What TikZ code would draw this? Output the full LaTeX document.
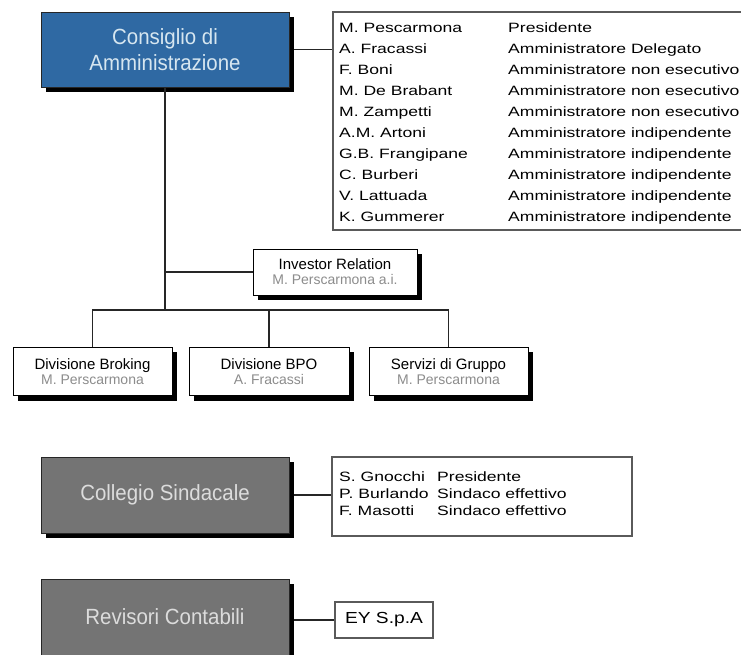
\documentclass[tikz,border=0pt]{standalone}
\usepackage{fontspec}
\setmainfont{Liberation Sans}
\newfontfamily\listfont{Liberation Sans}[FakeStretch=1.3]
\newfontfamily\eyfont{Liberation Sans}[FakeStretch=1.2]
\newfontfamily\headfont{Liberation Sans}[FakeStretch=0.93]
\usetikzlibrary{backgrounds}
\definecolor{boardblue}{RGB}{47,105,163}
\definecolor{boardtext}{RGB}{214,230,240}
\definecolor{auditgrey}{RGB}{116,116,116}
\definecolor{audittext}{RGB}{220,220,220}
\definecolor{subname}{RGB}{140,140,140}
\definecolor{framegrey}{RGB}{90,90,90}
\tikzset{
  headbox/.style={draw=black!85,line width=0.8pt,minimum width=248pt,minimum height=75pt,
    align=center,inner sep=0pt,font=\headfont\fontsize{22}{26}\selectfont},
  bluebox/.style={headbox,fill=boardblue,text=boardtext},
  greybox/.style={headbox,fill=auditgrey,text=audittext},
  unitbox/.style={draw=black,line width=0.8pt,fill=white,align=center,inner sep=0pt,
    minimum height=48pt,font=\fontsize{15}{15}\selectfont},
  listframe/.style={draw=framegrey,line width=1.3pt,fill=white,inner sep=0pt},
  listtext/.style={anchor=base west,inner sep=0pt,font=\listfont\fontsize{13.5}{16}\selectfont},
  link/.style={line width=1.1pt,draw=black!85},
  boxshadow/.style={fill=black},
}
\newcommand{\holder}[1]{\\{\color{subname}\fontsize{14}{15}\selectfont #1}}
% solid shadow offset 5pt to the lower right of a named box
\newcommand{\castshadow}[1]{%
  \begin{scope}[on background layer]
    \fill[boxshadow] ([shift={(5pt,-5pt)}]#1.south west) rectangle ([shift={(5pt,-5pt)}]#1.north east);
  \end{scope}}
\begin{document}
\begin{tikzpicture}[x=1pt,y=-1pt]
\useasboundingbox (0,0) rectangle (741,654);
\begin{scope}[on background layer]
  \fill[white] (0,0) rectangle (741,654);
\end{scope}

% Board of directors and its members
\node[bluebox] (cda) at (165,49.5) {Consiglio di\\Amministrazione};
\node[listframe,minimum width=437pt,minimum height=218pt] (members) at (551.5,121) {};
\foreach \nm/\rl [count=\i from 0] in {
  M. Pescarmona/Presidente,
  A. Fracassi/Amministratore Delegato,
  F. Boni/Amministratore non esecutivo,
  M. De Brabant/Amministratore non esecutivo,
  M. Zampetti/Amministratore non esecutivo,
  A.M. Artoni/Amministratore indipendente,
  G.B. Frangipane/Amministratore indipendente,
  C. Burberi/Amministratore indipendente,
  V. Lattuada/Amministratore indipendente,
  K. Gummerer/Amministratore indipendente}{
  \node[listtext] (mn\i) at (339,32+21.1*\i) {\nm};
  \node[listtext] (mr\i) at (508,32+21.1*\i) {\rl};
}

% Staff function and divisions
\node[unitbox,minimum width=164pt,minimum height=46pt] (ir) at (335,272) {Investor Relation\holder{M. Perscarmona a.i.}};
\node[unitbox,minimum width=159pt] (d1) at (92.5,371.5) {Divisione Broking\holder{M. Perscarmona}};
\node[unitbox,minimum width=160pt] (d2) at (269,371.5) {Divisione BPO\holder{A. Fracassi}};
\node[unitbox,minimum width=159pt] (d3) at (448.5,371.5) {Servizi di Gruppo\holder{M. Perscarmona}};
\coordinate (bus) at (165,310);

\draw[link] ([xshift=5pt]cda.east) -- (members.west |- cda.east);
\draw[link] (cda.south) -- (bus);
\draw[link] (ir.west) -- (ir.west -| cda.south);
\draw[link] (d1.north) -- (d1.north |- bus) -- (d3.north |- bus) -- (d3.north);
\draw[link] (d2.north) -- (d2.north |- bus);

% Board of statutory auditors
\node[greybox,minimum height=76pt] (col) at (165,495) {Collegio Sindacale};
\node[listframe,minimum width=300pt,minimum height=79pt] (colm) at (482,496.5) {};
\foreach \nm/\rl [count=\i from 0] in {
  S. Gnocchi/Presidente,
  P. Burlando/Sindaco effettivo,
  F. Masotti/Sindaco effettivo}{
  \node[listtext] (cn\i) at (339,481+17*\i) {\nm};
  \node[listtext] (cr\i) at (437,481+17*\i) {\rl};
}
\draw[link] ([xshift=5pt]col.east) -- (colm.west |- col.east);

% External auditors
\node[greybox,minimum height=76pt] (rev) at (165,617) {Revisori Contabili};
\node[draw=framegrey,line width=1.3pt,fill=white,minimum width=98pt,minimum height=36pt,inner sep=0pt,
  font=\eyfont\fontsize{16}{16}\selectfont] (ey) at (384,620) {EY S.p.A};
\draw[link] ([xshift=5pt]ey.west -| rev.east) -- (ey.west);

% Solid shadows under the boxes
\foreach \b in {cda,ir,d1,d2,d3,col,rev}{\castshadow{\b}}
\end{tikzpicture}
\end{document}
